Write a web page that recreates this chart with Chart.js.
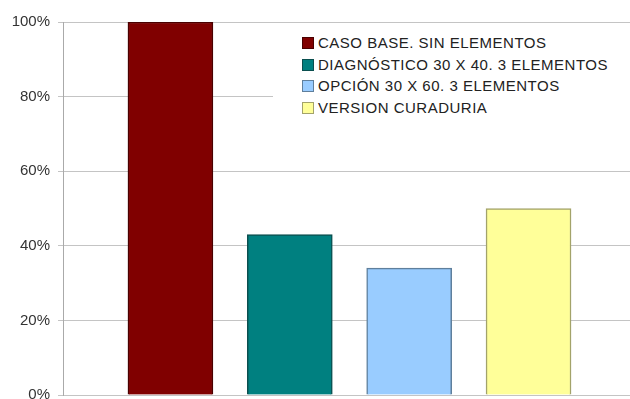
<!DOCTYPE html>
<html>
<head>
<meta charset="utf-8">
<title>Casos</title>
<script src="https://cdn.jsdelivr.net/npm/chart.js@4/dist/chart.umd.min.js"></script>
<style>
  html, body { margin: 0; padding: 0; background: #fff; }
  #wrap { position: relative; width: 630px; height: 399px; overflow: hidden; }
  #legend {
    position: absolute; left: 273px; top: 28px; width: 357px; height: 96px;
    background: #fff; padding-top: 4px; box-sizing: border-box;
    font-family: 'Liberation Sans', Arial, sans-serif; font-size: 15px;
    letter-spacing: 0.5px; color: #222;
  }
  #legend .row { height: 21.7px; line-height: 21.7px; padding-left: 29px; white-space: nowrap; }
  #legend .box {
    display: inline-block; width: 10px; height: 10px; margin-right: 4px;
    vertical-align: -1px; border: 1px solid #444;
  }
</style>
</head>
<body>
<div id="wrap">
  <canvas id="chart" width="630" height="399"></canvas>
  <div id="legend"></div>
</div>
<script>
// ── DATOS ─────────────────────────────────────────────
const SERIES   = ['CASO BASE. SIN ELEMENTOS', 'DIAGNÓSTICO 30 X 40. 3 ELEMENTOS', 'OPCIÓN 30 X 60. 3 ELEMENTOS', 'VERSION CURADURIA'];
const VALUES   = [100, 43, 34, 50];
const FILLS    = ['#800000', '#008080', '#99ccff', '#ffff99'];
const BORDERS  = ['#4a0000', '#0b4f4f', '#5f7f9c', '#a3a36a'];
const Y_TICKS  = [0, 20, 40, 60, 80, 100];

const GRID = '#c4c4c4';
const FONT = "'Liberation Sans', Arial, sans-serif";

// leyenda en HTML, encima del área del gráfico
const htmlLegend = {
  id: 'htmlLegend',
  afterUpdate(chart) {
    const el = document.getElementById('legend');
    const items = chart.options.plugins.legend.labels.generateLabels(chart);
    el.innerHTML = items.map(it =>
      `<div class="row"><span class="box" style="background:${it.fillStyle};border-color:${it.strokeStyle}"></span>${it.text}</div>`
    ).join('');
  }
};

new Chart(document.getElementById('chart'), {
  type: 'bar',
  data: {
    datasets: SERIES.map((name, i) => ({
      label: name,
      data: [{ x: i + 1, y: VALUES[i] }],
      backgroundColor: FILLS[i],
      borderColor: BORDERS[i],
      borderWidth: 1.5,
      barThickness: 85,
      grouped: false,
    }))
  },
  options: {
    responsive: false,
    animation: false,
    layout: { padding: { top: 22, left: 0, right: 0, bottom: 4 } },
    plugins: {
      legend: { display: false },
      tooltip: { enabled: false }
    },
    scales: {
      x: { type: 'linear', min: 0.1, max: 4.85, offset: false, display: false },
      y: {
        min: 0, max: 100,
        afterBuildTicks: s => { s.ticks = Y_TICKS.map(v => ({ value: v })); },
        afterFit: s => { s.width = 63; s.paddingTop = 0; s.paddingBottom = 0; },
        ticks: {
          color: '#333', padding: 8,
          font: { family: FONT, size: 15 },
          callback: v => v + '%'
        },
        grid: { color: GRID, tickLength: 5, tickColor: GRID },
        border: { color: '#aaa' }
      }
    }
  },
  plugins: [htmlLegend]
});
</script>
</body>
</html>
